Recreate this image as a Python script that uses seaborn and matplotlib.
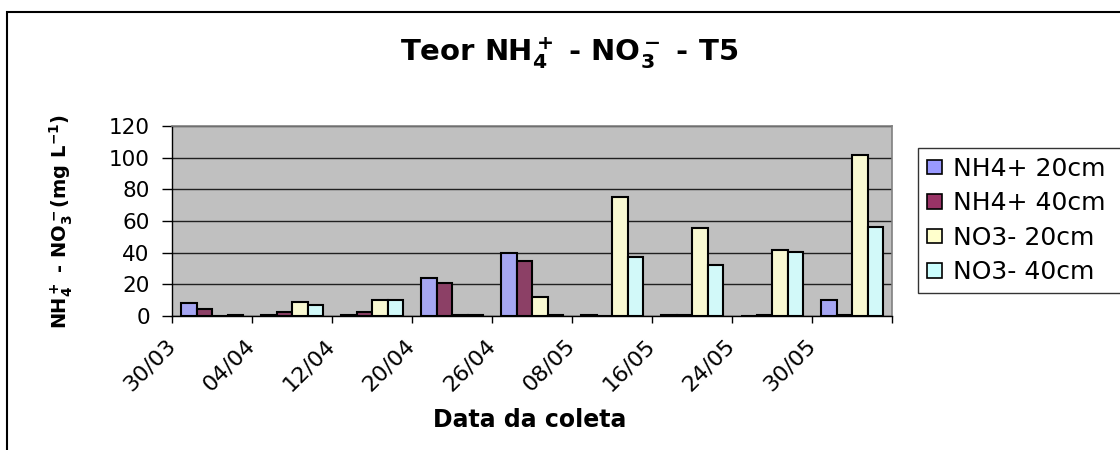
import numpy as np
import pandas as pd
import matplotlib
matplotlib.use("Agg")
import matplotlib.pyplot as plt
import matplotlib.patches as mpatches
import matplotlib.transforms as mtransforms
import seaborn as sns

# ---- data ----
categories = ['30/03', '04/04', '12/04', '20/04', '26/04', '08/05', '16/05', '24/05', '30/05']
series = ['NH4+ 20cm', 'NH4+ 40cm', 'NO3- 20cm', 'NO3- 40cm']
nh4_20 = [8, 0.4, 0.4, 24, 40, 0.4, 0.4, 0, 10]
nh4_40 = [4.5, 2.7, 2.7, 21, 35, 0, 0.4, 0.4, 0.4]
no3_20 = [0, 8.8, 10, 0.4, 12, 75, 55.5, 41.5, 101.5]
no3_40 = [0.4, 6.7, 10, 0.4, 0.4, 37, 32, 40.5, 56.5]
colors = ['#9999FF', '#993366', '#FFFFCC', '#CCFFFF']
yticks = [0, 20, 40, 60, 80, 100, 120]

df = pd.DataFrame({
    'data': categories * 4,
    'serie': np.repeat(series, len(categories)),
    'valor': nh4_20 + nh4_40 + no3_20 + no3_40,
})

plt.rcParams['font.family'] = ['DejaVu Sans']
plt.rcParams['mathtext.fontset'] = 'dejavusans'
plt.rcParams['mathtext.default'] = 'bf'

W, H = 1120, 450
fig = plt.figure(figsize=(W / 100, H / 100), dpi=100)
ax = fig.add_axes([172 / W, 1 - 316 / H, 720 / W, 190 / H])
ax.set_facecolor('#C0C0C0')

sns.barplot(data=df, x='data', y='valor', hue='serie', order=categories,
            hue_order=series, palette=colors, width=0.775, gap=0,
            edgecolor='black', linewidth=1.5, errorbar=None, ax=ax,
            legend=False, zorder=3)

ax.set_xlim(-0.5, len(categories) - 0.5)
ax.set_ylim(0, 120)
ax.set_yticks(yticks)
ax.set_yticklabels([str(v) for v in yticks], fontsize=15.5)
ax.yaxis.grid(True, color='#202020', linewidth=1.0)
ax.xaxis.grid(False)
ax.set_axisbelow(True)
ax.set_xlabel('')
ax.set_ylabel('')

bounds = np.arange(-0.5, len(categories), 1.0)
ax.set_xticks(bounds)
ax.set_xticklabels(categories + [''], fontsize=16)
offset = mtransforms.ScaledTranslation(12 / 100, 0, fig.dpi_scale_trans)
for lab in ax.get_xticklabels():
    lab.set_rotation(45)
    lab.set_ha('right')
    lab.set_va('center')
    lab.set_rotation_mode('anchor')
    lab.set_transform(lab.get_transform() + offset)

ax.tick_params(axis='x', direction='out', length=5, width=1, pad=14, color='black')
ax.tick_params(axis='y', direction='out', length=7, width=1, pad=9, color='black')

for s in ['top', 'right']:
    ax.spines[s].set_color('#808080')
    ax.spines[s].set_linewidth(1.2)
for s in ['left', 'bottom']:
    ax.spines[s].set_color('black')
    ax.spines[s].set_linewidth(1.0)

# titles / labels
fig.text(569 / W, 1 - 53 / H, r'Teor NH$_4^+$ - NO$_3^-$ - T5', fontsize=21,
         fontweight='bold', ha='center', va='center')
fig.text(530 / W, 1 - 427 / H, 'Data da coleta', fontsize=17,
         fontweight='bold', ha='center', va='baseline')
fig.text(61 / W, 1 - 221 / H, r'NH$_4^+$ - NO$_3^-$(mg L$^{-1}$)', fontsize=14,
         fontweight='bold', ha='center', va='center', rotation=90)

# legend
handles = [mpatches.Patch(facecolor=c, edgecolor='black', linewidth=1.2) for c in colors]
leg = fig.legend(handles, series, loc='upper left',
                 bbox_to_anchor=(918 / W, 1 - 148 / H, 0.3, 0),
                 bbox_transform=fig.transFigure, mode='expand',
                 borderaxespad=0, fontsize=18, frameon=True, fancybox=False,
                 handlelength=0.6, handleheight=0.5, handletextpad=0.45,
                 labelspacing=0.42, borderpad=0.35)
leg.get_frame().set_edgecolor('black')
leg.get_frame().set_linewidth(1.0)

# outer chart border
fig.patches.append(mpatches.Rectangle((7 / W, -0.1), 1.2, 1 - 12 / H + 0.1,
                                      transform=fig.transFigure, fill=False,
                                      edgecolor='black', linewidth=1.5))

fig.savefig('out.png', dpi=100)
